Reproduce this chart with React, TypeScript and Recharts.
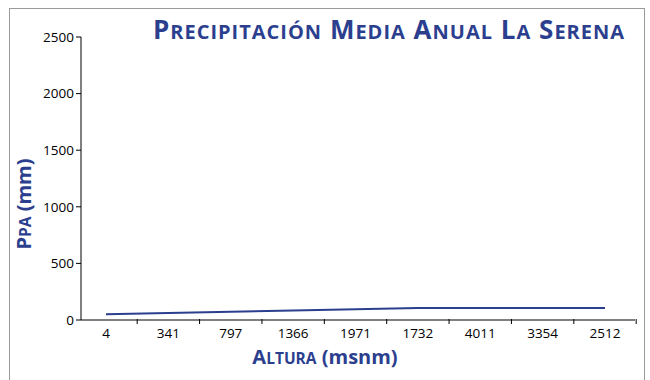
import React from "react";
import { LineChart, Line, XAxis, YAxis } from "recharts";

// Datos
const ALTURAS = ["4", "341", "797", "1366", "1971", "1732", "4011", "3354", "2512"];
const PPA = [50, 62, 73, 85, 96, 105, 105, 105, 105];
const Y_TICKS = [0, 500, 1000, 1500, 2000, 2500];

const data = ALTURAS.map((altura, i) => ({ altura, ppa: PPA[i] }));

const BLUE = "#2c3f8f";
const FONT = "'Open Sans', sans-serif";
const W = 650;
const H = 380;
const PLOT_LEFT = 81;
const PLOT_RIGHT = 635;
const PAD_L = 25;
const PAD_R = 30;
const HALF_STEP = (PLOT_RIGHT - PLOT_LEFT - PAD_L - PAD_R) / (ALTURAS.length - 1) / 2;

// versalitas: primera letra grande, resto en mayúsculas pequeñas
const sc = (word: string, big: number, small: number, key: string) => [
  <tspan key={key + "a"} fontSize={big}>{word[0]}</tspan>,
  <tspan key={key + "b"} fontSize={small}>{word.slice(1).toUpperCase()}</tspan>,
];

const XTick = (props: any) => {
  const { x, y, payload } = props;
  return (
    <g>
      <line x1={x + HALF_STEP} x2={x + HALF_STEP} y1={y - 1} y2={y + 4} stroke="#000" />
      <text x={x} y={y + 18} textAnchor="middle" fontSize={13.5} fill="#000" fontFamily={FONT}>
        {payload.value}
      </text>
    </g>
  );
};

const App: React.FC = () => {
  const title = "Precipitación Media Anual La Serena".split(" ");
  return (
    <div style={{ position: "absolute", left: 0, top: 0, width: W, height: H, overflow: "hidden" }}>
      <div
        style={{
          position: "absolute",
          left: 9,
          top: 8,
          width: 636,
          height: 400,
          border: "1px solid #9a9a9a",
          boxSizing: "border-box",
        }}
      />
      <LineChart
        width={W}
        height={H}
        data={data}
        margin={{ top: 37, right: W - PLOT_RIGHT, bottom: 30, left: 0 }}
        style={{ position: "absolute", left: 0, top: 0 }}
      >
        <XAxis
          dataKey="altura"
          height={30}
          padding={{ left: PAD_L, right: PAD_R }}
          axisLine={{ stroke: "#000" }}
          tickLine={false}
          tickSize={0}
          tickMargin={0}
          interval={0}
          tick={<XTick />}
        />
        <YAxis
          width={PLOT_LEFT}
          domain={[0, 2500]}
          ticks={Y_TICKS}
          axisLine={{ stroke: "#000" }}
          tickLine={{ stroke: "#000" }}
          tickSize={5}
          tickMargin={2}
          tick={{ fontSize: 13.5, fill: "#000", fontFamily: FONT }}
        />
        <Line
          type="linear"
          dataKey="ppa"
          stroke={BLUE}
          strokeWidth={2}
          dot={false}
          isAnimationActive={false}
        />
      </LineChart>
      <svg
        width={W}
        height={H}
        style={{ position: "absolute", left: 0, top: 0, pointerEvents: "none" }}
      >
        <text
          x={389}
          y={39}
          textAnchor="middle"
          fontFamily={FONT}
          fontWeight={700}
          fill={BLUE}
          letterSpacing={1}
        >
          {title.map((w, i) => [
            i > 0 ? <tspan key={"s" + i} fontSize={26}> </tspan> : null,
            ...sc(w, 26, 20, "t" + i),
          ])}
        </text>
        <text x={325} y={364} textAnchor="middle" fontFamily={FONT} fontWeight={700} fill={BLUE}>
          {sc("Altura", 20, 15.5, "x")}
          <tspan fontSize={20}> (msnm)</tspan>
        </text>
        <text
          transform="translate(31,204) rotate(-90)"
          textAnchor="middle"
          fontFamily={FONT}
          fontWeight={700}
          fill={BLUE}
        >
          {sc("PPA", 20, 15.5, "y")}
          <tspan fontSize={20}> (mm)</tspan>
        </text>
      </svg>
    </div>
  );
};

export default App;
